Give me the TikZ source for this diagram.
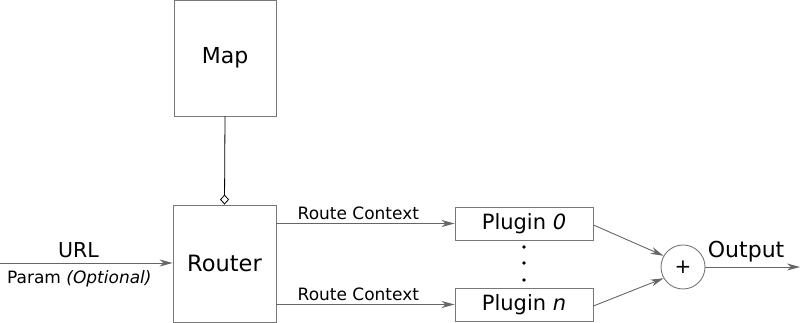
\documentclass[tikz,border=0pt]{standalone}
\usepackage{fontspec}
\setmainfont{DejaVu Sans}
\usetikzlibrary{arrows.meta,calc}

\definecolor{edgegray}{HTML}{777777}
\definecolor{flowgray}{HTML}{666666}

\tikzset{
    block/.style={draw=edgegray, line width=0.9pt, inner sep=0pt},
    flow/.style={draw=flowgray, line width=0.9pt, -{Stealth[length=13pt,width=7pt,inset=4pt]}},
    tag/.style={font=\fontsize{17}{19}\selectfont, inner sep=2pt}
}

\begin{document}
\begin{tikzpicture}[x=1pt, y=1pt]
    \useasboundingbox (0,0) rectangle (800,323);

    % Map and Router
    \node [block, minimum width=102pt, minimum height=116pt, font=\fontsize{22}{25}\selectfont] (map) at (225,265) {Map};
    \node [block, minimum width=103pt, minimum height=117pt, font=\fontsize{22.5}{25}\selectfont] (router) at (224.5,59.5) {Router};
    \draw [black, line width=0.8pt, -{Diamond[open, length=10pt, width=9pt]}] (map.south) -- (router.north);

    % Input
    \coordinate (urlin) at (0,60);
    \draw [flow] (urlin) -- (urlin -| router.west)
        node [pos=0.455, above=1pt, font=\fontsize{20.5}{23}\selectfont] {URL}
        node [pos=0.46, below=5pt, tag] {Param \textit{(Optional)}};

    % Plugins
    \node [block, minimum width=138pt, minimum height=33pt, font=\fontsize{21}{24}\selectfont] (plug0) at (524,99.5) {Plugin \textit{0}};
    \node [block, minimum width=138pt, minimum height=33pt, font=\fontsize{21}{24}\selectfont] (plugn) at (524,18.5) {Plugin \textit{n}};
    \foreach \y [count=\i] in {76,60,43}
        \fill (524,\y) circle (1.8pt) coordinate (dot\i);

    \draw [flow] (router.east |- plug0.west) -- (plug0.west) node [pos=0.46, above=1pt, tag] {Route Context};
    \draw [flow] (router.east |- plugn.west) -- (plugn.west) node [pos=0.46, above=1pt, tag] {Route Context};

    % Sum and output
    \node [draw=edgegray, line width=0.9pt, circle, minimum size=44pt, inner sep=0pt, font=\fontsize{20}{23}\selectfont] (sum) at (683,56) {+};
    \draw [flow] ($(plug0.east)+(0,-1.5)$) -- (sum.150);
    \draw [flow] ($(plugn.east)+(0,-1.5)$) -- (sum.210);
    \coordinate (out) at (800,56);
    \draw [flow] (sum.east) -- (out) node [pos=0.43, above=1pt, font=\fontsize{22}{25}\selectfont] {Output};
\end{tikzpicture}
\end{document}
